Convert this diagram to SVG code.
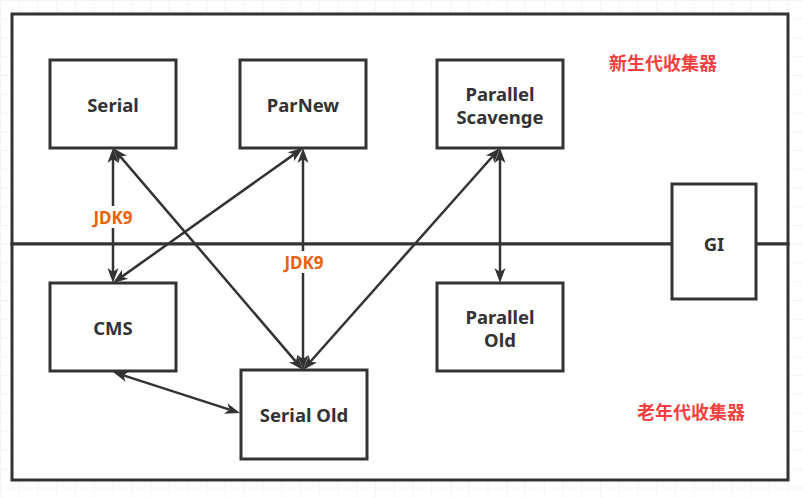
<svg xmlns="http://www.w3.org/2000/svg" width="803" height="497" viewBox="0 0 803 497">
<style>
.box{fill:#fff;stroke:#333;stroke-width:3}
.lbl{font-family:"Noto Sans","Open Sans","Noto Sans CJK SC",sans-serif;font-weight:bold;font-size:18.5px;fill:#333;text-anchor:middle;dominant-baseline:central}
.cn{font-family:"Noto Sans CJK SC",sans-serif;font-weight:bold;font-size:18px;fill:#f54040;text-anchor:middle;dominant-baseline:central}
.jdk{font-family:"Noto Sans","Open Sans",sans-serif;font-weight:bold;font-size:17px;fill:#e8620e;text-anchor:middle;dominant-baseline:central}
.con{stroke:#333;stroke-width:2.5;fill:none;marker-start:url(#ah);marker-end:url(#ah)}
</style>
<defs>
<pattern id="grid" patternUnits="userSpaceOnUse" width="18.75" height="18.75">
<path d="M0,0 H18.75 M0,0 V18.75" stroke="#e9e9e9" stroke-width="1" fill="none"/>
</pattern>
<marker id="ah" markerUnits="userSpaceOnUse" markerWidth="15" markerHeight="11" refX="4" refY="5.5" orient="auto-start-reverse" overflow="visible">
<path d="M15,5.5 L0,0 L4,5.5 L0,11 Z" fill="#333"/>
</marker>
</defs>
<rect x="0" y="0" width="803" height="497" fill="#fff"/>
<rect x="0" y="0" width="803" height="497" fill="url(#grid)"/>
<g id="young-area">
<rect x="12" y="14" width="776" height="230" fill="#fff" stroke="#333" stroke-width="3"/>
<text class="cn" x="663" y="62">新生代收集器</text>
</g>
<g id="old-area">
<rect x="12" y="244" width="776" height="236" fill="#fff" stroke="#333" stroke-width="3"/>
<text class="cn" x="691" y="411">老年代收集器</text>
</g>
<g id="connectors">
<line class="con" x1="113" y1="159" x2="113" y2="272"/>
<line class="con" x1="303" y1="159" x2="303" y2="359"/>
<line class="con" x1="500" y1="159" x2="500" y2="272"/>
<line class="con" x1="120.15" y1="156.36" x2="295.85" y2="361.64"/>
<line class="con" x1="294.03" y1="154.37" x2="121.97" y2="276.63"/>
<line class="con" x1="492.70" y1="156.23" x2="310.30" y2="361.77"/>
<line class="con" x1="123.46" y1="375.38" x2="229.54" y2="409.62"/>
<rect x="89" y="206" width="48" height="22" fill="#fff"/>
<text class="jdk" x="113" y="217">JDK9</text>
<rect x="280" y="251" width="48" height="22" fill="#fff"/>
<text class="jdk" x="304" y="262">JDK9</text>
</g>
<g id="serial"><rect class="box" x="50" y="60" width="126" height="88"/><text class="lbl" x="113" y="104">Serial</text></g>
<g id="parnew"><rect class="box" x="240" y="60" width="126" height="88"/><text class="lbl" x="303" y="104">ParNew</text></g>
<g id="parallel-scavenge"><rect class="box" x="437" y="60" width="126" height="88"/><text class="lbl" x="500" y="93">Parallel</text><text class="lbl" x="500" y="116">Scavenge</text></g>
<g id="cms"><rect class="box" x="50" y="283" width="126" height="88"/><text class="lbl" x="113" y="327">CMS</text></g>
<g id="serial-old"><rect class="box" x="241" y="370" width="126" height="89"/><text class="lbl" x="304" y="414">Serial Old</text></g>
<g id="parallel-old"><rect class="box" x="437" y="283" width="126" height="88"/><text class="lbl" x="500" y="316">Parallel</text><text class="lbl" x="500" y="339">Old</text></g>
<g id="gi"><rect class="box" x="672" y="184" width="84" height="115"/><text class="lbl" x="714" y="243">GI</text></g>
</svg>
